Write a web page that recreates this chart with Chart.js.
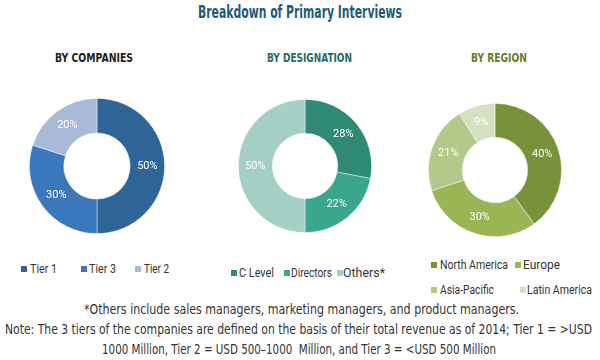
<!DOCTYPE html>
<html>
<head>
<meta charset="utf-8">
<script src="https://cdn.jsdelivr.net/npm/chart.js@4"></script>
<style>
  html, body { margin: 0; padding: 0; background: #fff; }
  #wrap { position: relative; width: 600px; height: 360px; overflow: hidden; font-family: "DejaVu Sans Condensed", Roboto, sans-serif; }
  .t { position: absolute; white-space: nowrap; transform-origin: 0 0; }
  .box { position: absolute; }
  .sw { position: absolute; width: 6px; height: 6px; }
  .lt { position: absolute; white-space: nowrap; font-family: Roboto, sans-serif; font-size: 12px; color: #333; line-height: 14px; transform-origin: 0 0; }
</style>
</head>
<body>
<div id="wrap">
  <div class="t" style="left:198px;top:2px;font-size:17px;font-weight:bold;color:#1e5b7b;" data-w="204">Breakdown of Primary Interviews</div>
  <div class="t" style="left:55px;top:50px;font-size:13px;font-weight:bold;color:#1c1c1c;" data-w="78">BY COMPANIES</div>
  <div class="t" style="left:267px;top:50px;font-size:13px;font-weight:bold;color:#1e6b62;" data-w="85">BY DESIGNATION</div>
  <div class="t" style="left:471px;top:50px;font-size:13px;font-weight:bold;color:#6b7a2a;" data-w="56">BY REGION</div>

  <div class="box" style="left:29px;top:98px;width:136px;height:136px;"><canvas id="c1"></canvas></div>
  <div class="box" style="left:238px;top:99px;width:134px;height:134px;"><canvas id="c2"></canvas></div>
  <div class="box" style="left:428px;top:103px;width:134px;height:134px;"><canvas id="c3"></canvas></div>

  <div id="legends"></div>

  <div class="t" style="left:84px;top:301px;font-size:14px;color:#333;" data-w="435">*Others include sales managers, marketing managers, and product managers.</div>
  <div class="t" style="left:5px;top:321px;font-size:14px;color:#333;" data-w="587">Note: The 3 tiers of the companies are defined on the basis of their total revenue as of 2014; Tier 1 = &gt;USD</div>
  <div class="t" style="left:102px;top:341px;font-size:14px;color:#333;" data-w="394">1000 Million, Tier 2 = USD 500–1000&nbsp; Million, and Tier 3 = &lt;USD 500 Million</div>
</div>
<script>
// ---- data ----
const companyLabels = ["Tier 1", "Tier 3", "Tier 2"];
const companyValues = [50, 30, 20];
const designationLabels = ["C Level", "Directors", "Others*"];
const designationValues = [28, 22, 50];
const regionLabels = ["North America", "Europe", "Asia-Pacific", "Latin America"];
const regionValues = [40, 30, 21, 9];

// ---- styles ----
const companyColors = ["#2f6499", "#3b78bb", "#a9b9d8"];
const designationColors = ["#2f8a75", "#3aa68e", "#a5cec4"];
const regionColors = ["#77923b", "#99b554", "#b3c98a", "#d5e0c2"];

const pctLabels = {
  id: "pctLabels",
  afterDatasetsDraw(chart) {
    const ctx = chart.ctx;
    const meta = chart.getDatasetMeta(0);
    const vals = chart.data.datasets[0].data;
    ctx.save();
    ctx.fillStyle = "#ffffff";
    ctx.font = "11px Roboto, sans-serif";
    ctx.textAlign = "center";
    ctx.textBaseline = "middle";
    meta.data.forEach((arc, i) => {
      const p = arc.tooltipPosition();
      ctx.fillText(vals[i] + "%", p.x, p.y);
    });
    ctx.restore();
  }
};

function donut(id, labels, values, colors) {
  return new Chart(document.getElementById(id), {
    type: "doughnut",
    data: { labels, datasets: [{ data: values, backgroundColor: colors, borderColor: "rgba(255,255,255,0.55)", borderWidth: 0.8 }] },
    options: {
      responsive: true, maintainAspectRatio: false, animation: false,
      cutout: "49%",
      layout: { padding: 0 },
      plugins: { legend: { display: false }, tooltip: { enabled: false } }
    },
    plugins: [pctLabels]
  });
}
donut("c1", companyLabels, companyValues, companyColors);
donut("c2", designationLabels, designationValues, designationColors);
donut("c3", regionLabels, regionValues, regionColors);

// ---- legend layout (swatch x, text x, center y, text width) ----
const legendLayout = [
  { labels: companyLabels, colors: companyColors, pos: [[21, 30, 269, 27], [81, 89, 269, 27], [135, 144, 269, 25]] },
  { labels: designationLabels, colors: designationColors, pos: [[231, 239, 273, 35], [284, 291, 273, 41], [337, 343, 273, 42]] },
  { labels: regionLabels, colors: regionColors, pos: [[431, 440, 265, 68], [515, 523, 265, 37], [431, 440, 290, 54], [520, 527, 290, 65]] }
];
const legRoot = document.getElementById("legends");
legendLayout.forEach(g => {
  g.labels.forEach((lab, i) => {
    const [sx, tx, cy, tw] = g.pos[i];
    const sw = document.createElement("div");
    sw.className = "sw";
    sw.style.left = sx + "px";
    sw.style.top = (cy - 3) + "px";
    sw.style.background = g.colors[i];
    legRoot.appendChild(sw);
    const t = document.createElement("div");
    t.className = "lt";
    t.style.left = tx + "px";
    t.style.top = (cy - 7) + "px";
    t.dataset.w = tw;
    t.textContent = lab;
    legRoot.appendChild(t);
  });
});

// fit text widths
document.querySelectorAll("[data-w]").forEach(el => {
  const w = el.getBoundingClientRect().width;
  const target = parseFloat(el.dataset.w);
  if (w > 0) el.style.transform = "scaleX(" + (target / w) + ")";
});
</script>
</body>
</html>
